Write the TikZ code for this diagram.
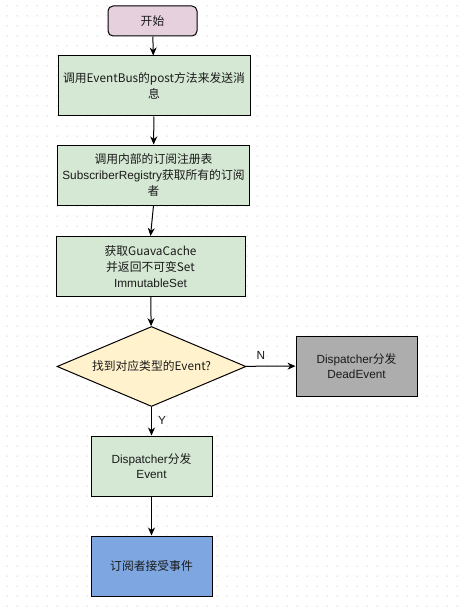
\documentclass[tikz,border=0pt]{standalone}
\usepackage{fontspec}
\setmainfont{Liberation Sans}
\newfontfamily\cjk{Noto Sans CJK SC}
\usetikzlibrary{shapes.geometric,arrows.meta}
\definecolor{startc}{HTML}{E6D0DE}
\definecolor{greenc}{HTML}{D5E8D4}
\definecolor{yellowc}{HTML}{FFF2CC}
\definecolor{grayc}{HTML}{ADADAD}
\definecolor{bluec}{HTML}{7EA6E0}
\definecolor{dotc}{HTML}{C8C8C8}
\definecolor{textc}{HTML}{1A1A1A}
\tikzset{
  boxn/.style={draw=black, line width=1pt, inner sep=0pt, align=center, text=textc,
    font=\fontsize{11.8}{15.8}\selectfont},
  dia/.style={boxn, diamond, aspect=2.36, fill=yellowc, minimum width=189pt, minimum height=80pt},
  arr/.style={draw=black, line width=1pt, -{Stealth[length=8pt,width=7pt,inset=2.5pt]}},
  lbl/.style={text=textc, font=\fontsize{11.8}{13}\selectfont, inner sep=0pt}
}
\begin{document}
\begin{tikzpicture}[x=1pt,y=-1pt]
\useasboundingbox (0,0) rectangle (458,615);
\fill[white] (0,0) rectangle (458,615);
\fill[dotc] \foreach \i in {0,...,45} { \foreach \j in {0,...,60} { (6.5+10*\i,5.5+10*\j) rectangle ++(1,1) } };

\node[boxn, fill=startc, rounded corners=5pt, minimum width=89pt, minimum height=30pt] (s) at (152.5,21) {\cjk{开始}};
\node[boxn, fill=greenc, minimum width=192pt, minimum height=60pt] (b1) at (154,86)
  {\cjk{调用}EventBus\cjk{的}post\cjk{方法来发送消}\\\cjk{息}};
\node[boxn, fill=greenc, minimum width=192pt, minimum height=60pt] (b2) at (153.5,175)
  {\cjk{调用内部的订阅注册表}\\SubscriberRegistry\cjk{获取所有的订阅}\\\cjk{者}};
\node[boxn, fill=greenc, minimum width=189pt, minimum height=60pt] (b3) at (150.5,266.5)
  {\cjk{获取}GuavaCache\\\cjk{并返回不可变}Set\\ImmutableSet};
\node[dia] (d) at (151.5,366.5) {\cjk{找到对应类型的}Event?};
\node[boxn, fill=grayc, minimum width=121pt, minimum height=60pt] (dead) at (356.5,366)
  {Dispatcher\cjk{分发}\\DeadEvent};
\node[boxn, fill=greenc, minimum width=121pt, minimum height=60pt] (ev) at (151.5,466)
  {Dispatcher\cjk{分发}\\Event};
\node[boxn, fill=bluec, minimum width=121pt, minimum height=60pt] (fin) at (151.5,566)
  {\cjk{订阅者接受事件}};

\draw[arr] (s) -- (b1);
\draw[arr] (b1) -- (b2);
\draw[arr] (b2.south) -- (b3.north);
\draw[arr] (b3) -- (d);
\draw[arr] (d) -- (dead);
\draw[arr] (d) -- (ev);
\draw[arr] (ev) -- (fin);
\node[lbl] (n) at (261,355) {N};
\node[lbl] (y) at (162,420) {Y};
\end{tikzpicture}
\end{document}
